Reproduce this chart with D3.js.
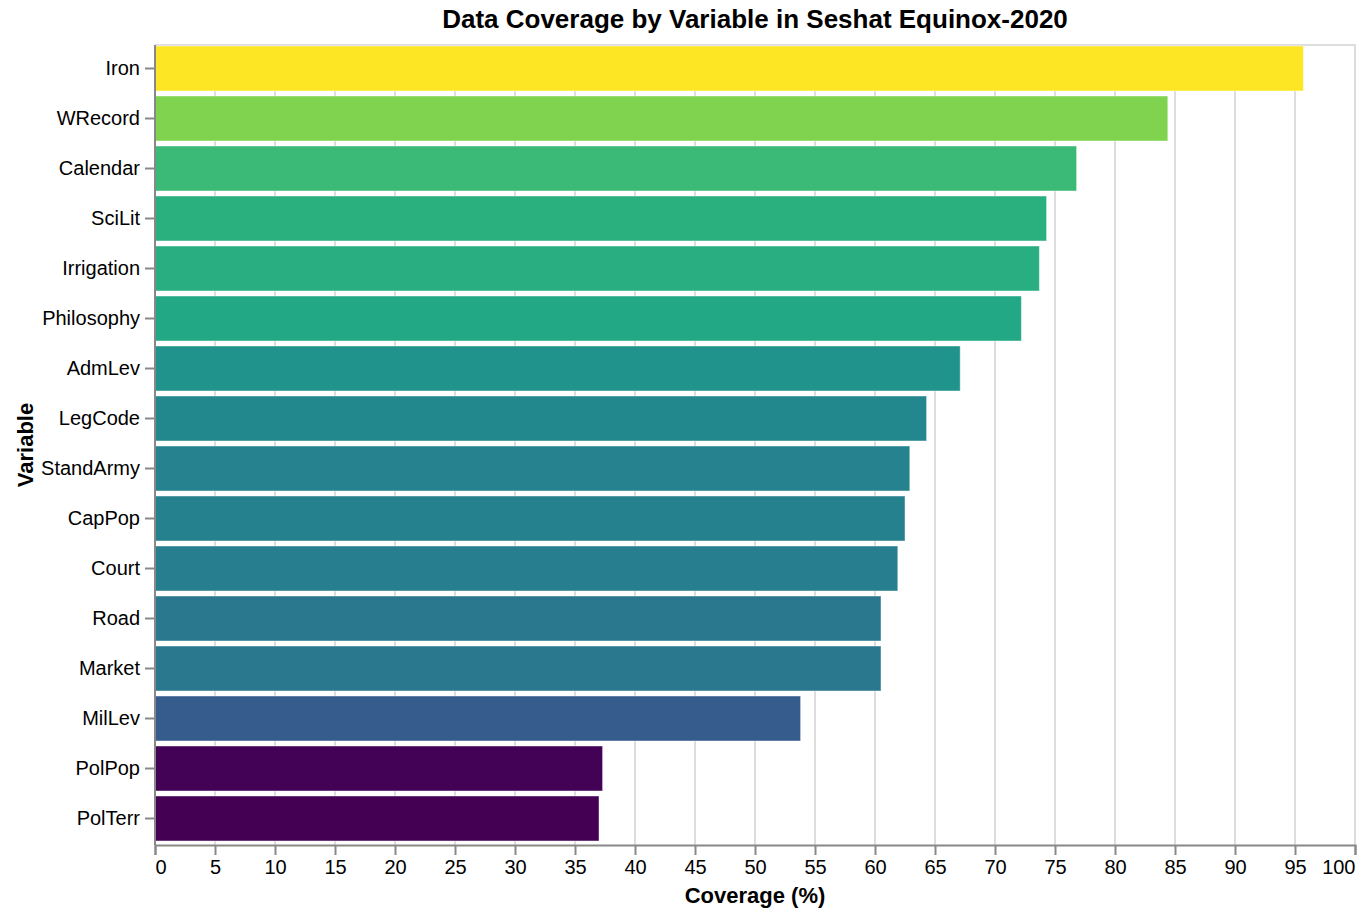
<!DOCTYPE html>
<html>
<head>
<meta charset="utf-8">
<script src="https://cdn.jsdelivr.net/npm/d3@7"></script>
<style>
  html, body { margin: 0; padding: 0; background: #fff; }
  svg { display: block; font-family: "Liberation Sans", Arial, Helvetica, sans-serif; }
</style>
</head>
<body>
<svg id="chart" width="1366" height="918"></svg>
<script>
const variables = ["Iron","WRecord","Calendar","SciLit","Irrigation","Philosophy","AdmLev","LegCode","StandArmy","CapPop","Court","Road","Market","MilLev","PolPop","PolTerr"];
const coverage  = [95.7, 84.4, 76.8, 74.3, 73.7, 72.2, 67.1, 64.3, 62.9, 62.5, 61.9, 60.5, 60.5, 53.8, 37.3, 37.0];
const xTicks = [0,5,10,15,20,25,30,35,40,45,50,55,60,65,70,75,80,85,90,95,100];
const titleText = "Data Coverage by Variable in Seshat Equinox-2020";
const xTitle = "Coverage (%)";
const yTitle = "Variable";

const data = variables.map((v, i) => ({ name: v, value: coverage[i] }));

const plot = { left: 155, right: 1355, top: 45, bottom: 845 };
const svg = d3.select("#chart");

const x = d3.scaleLinear().domain([0, 100]).range([plot.left, plot.right]);
const y = d3.scaleBand().domain(variables).range([plot.top - 1.5, plot.bottom - 1.5])
  .paddingInner(0.1).paddingOuter(0.05);
const color = d3.scaleSequential(d3.interpolateViridis)
  .domain([d3.min(coverage), d3.max(coverage)]);

// grid
svg.append("g").selectAll("line").data(xTicks).join("line")
  .attr("x1", d => x(d)).attr("x2", d => x(d))
  .attr("y1", plot.top).attr("y2", plot.bottom)
  .attr("stroke", "#ddd").attr("stroke-width", 2);

// view frame (top & right)
svg.append("path")
  .attr("d", `M${plot.left},${plot.top}H${plot.right}V${plot.bottom}`)
  .attr("fill", "none").attr("stroke", "#ddd").attr("stroke-width", 2);

// bars
svg.append("g").selectAll("rect").data(data).join("rect")
  .attr("x", x(0))
  .attr("y", d => y(d.name))
  .attr("width", d => x(d.value) - x(0))
  .attr("height", y.bandwidth())
  .attr("fill", d => color(d.value))
  .attr("stroke", "#fff").attr("stroke-opacity", 0.45).attr("stroke-width", 1);

// x axis
const xAxis = svg.append("g").attr("transform", `translate(0,${plot.bottom})`)
  .call(d3.axisBottom(x).tickValues(xTicks).tickSize(10).tickPadding(5).tickFormat(d3.format("d")));
xAxis.select(".domain").attr("stroke", "#888").attr("stroke-width", 2);
xAxis.selectAll(".tick line").attr("stroke", "#888").attr("stroke-width", 2);
xAxis.selectAll(".tick text").attr("font-size", 20).attr("fill", "#000")
  .attr("font-family", "Liberation Sans, Arial, sans-serif")
  .attr("text-anchor", (d, i, n) => i === 0 ? "start" : (i === n.length - 1 ? "end" : "middle"));

// y axis
const yAxis = svg.append("g").attr("transform", `translate(${plot.left},0)`)
  .call(d3.axisLeft(y).tickSize(10).tickPadding(5));
yAxis.select(".domain").attr("stroke", "#888").attr("stroke-width", 2)
  .attr("d", `M0,${plot.top}V${plot.bottom}`);
yAxis.selectAll(".tick line").attr("stroke", "#888").attr("stroke-width", 2);
yAxis.selectAll(".tick text").attr("font-size", 20).attr("fill", "#000")
  .attr("font-family", "Liberation Sans, Arial, sans-serif");

// titles
svg.append("text")
  .attr("x", (plot.left + plot.right) / 2).attr("y", 28)
  .attr("text-anchor", "middle").attr("font-size", 26).attr("font-weight", "bold")
  .attr("fill", "#000").text(titleText);

svg.append("text")
  .attr("x", (plot.left + plot.right) / 2).attr("y", 903)
  .attr("text-anchor", "middle").attr("font-size", 22).attr("font-weight", "bold")
  .attr("fill", "#000").text(xTitle);

svg.append("text")
  .attr("transform", `translate(33,${(plot.top + plot.bottom) / 2}) rotate(-90)`)
  .attr("text-anchor", "middle").attr("font-size", 22).attr("font-weight", "bold")
  .attr("fill", "#000").text(yTitle);
</script>
</body>
</html>
